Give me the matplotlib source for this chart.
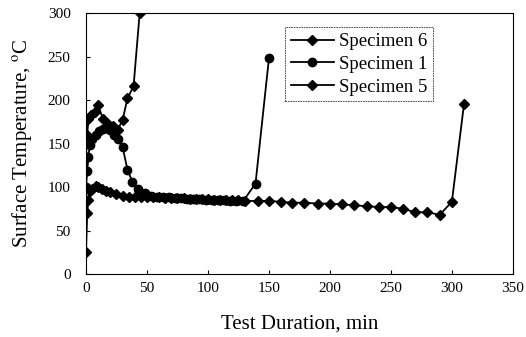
import matplotlib
matplotlib.use('Agg')
import matplotlib.pyplot as plt

plt.rcParams['font.family'] = 'Liberation Serif'
plt.rcParams['mathtext.fontset'] = 'stix'

# Specimen 6 (diamonds)
t6 = [0, 1, 2, 4, 7, 10, 14, 18, 22, 26, 30, 34, 39, 44]
T6 = [135, 160, 178, 183, 186, 194, 178, 172, 170, 166, 177, 202, 216, 300]

# Specimen 1 (circles)
t1 = [0, 1, 2, 3, 5, 8, 11, 14, 17, 20, 23, 26, 30, 34, 38, 43, 48, 53, 58,
      63, 68, 73, 78, 83, 88, 93, 98, 103, 108, 113, 118, 123, 129, 139, 150]
T1 = [100, 118, 135, 148, 155, 160, 165, 167, 168, 166, 160, 155, 146, 120, 106,
      98, 93, 90, 89, 88, 88, 87, 87, 86, 86, 86, 85, 85, 85, 85, 84, 84, 84, 104, 248]

# Specimen 5 (diamonds)
t5 = [0, 1, 2, 3, 5, 8, 10, 13, 16, 20, 25, 30, 35, 40, 45, 50, 55, 60, 65, 70,
      75, 80, 85, 90, 95, 100, 105, 110, 115, 120, 125, 130, 141, 150, 160, 169,
      179, 190, 200, 210, 220, 230, 240, 250, 260, 270, 280, 290, 300, 310]
T5 = [25, 70, 85, 95, 98, 101, 100, 98, 96, 94, 92, 90, 89, 88, 88, 88, 88, 88,
      87, 87, 87, 87, 86, 86, 86, 86, 85, 85, 85, 85, 85, 84, 84, 84, 83, 82,
      82, 81, 81, 80, 79, 78, 77, 77, 75, 71, 71, 68, 83, 196]

fig = plt.figure(figsize=(5.26, 3.37), dpi=100)
ax = fig.add_axes([0.1635, 0.187, 0.8115, 0.774])

ax.plot(t6, T6, color='black', lw=1.3, marker='D', ms=5.5, label='Specimen 6')
ax.plot(t1, T1, color='black', lw=1.3, marker='o', ms=6, label='Specimen 1')
ax.plot(t5, T5, color='black', lw=1.3, marker='D', ms=5.5, label='Specimen 5')

ax.set_xlim(0, 350)
ax.set_ylim(0, 300)
ax.set_xticks(range(0, 351, 50))
ax.set_yticks(range(0, 301, 50))
ax.tick_params(direction='in', labelsize=11, length=3)
ax.tick_params(axis='x', pad=6)
ax.tick_params(axis='y', pad=11)
ax.set_xlabel('Test Duration, min', fontsize=15, labelpad=14)
ax.set_ylabel('Surface Temperature, $^{\\mathrm{o}}$C', fontsize=15, labelpad=10)

leg = ax.legend(loc='upper left', bbox_to_anchor=(0.466, 0.945), fontsize=13.5,
                frameon=True, fancybox=False, borderpad=0.3, labelspacing=0.3,
                handlelength=2.3, handletextpad=0.3, borderaxespad=0)
leg.get_frame().set_edgecolor('black')
leg.get_frame().set_linewidth(0.6)
leg.get_frame().set_linestyle((0, (2, 1)))

fig.savefig('out.png', dpi=100)
